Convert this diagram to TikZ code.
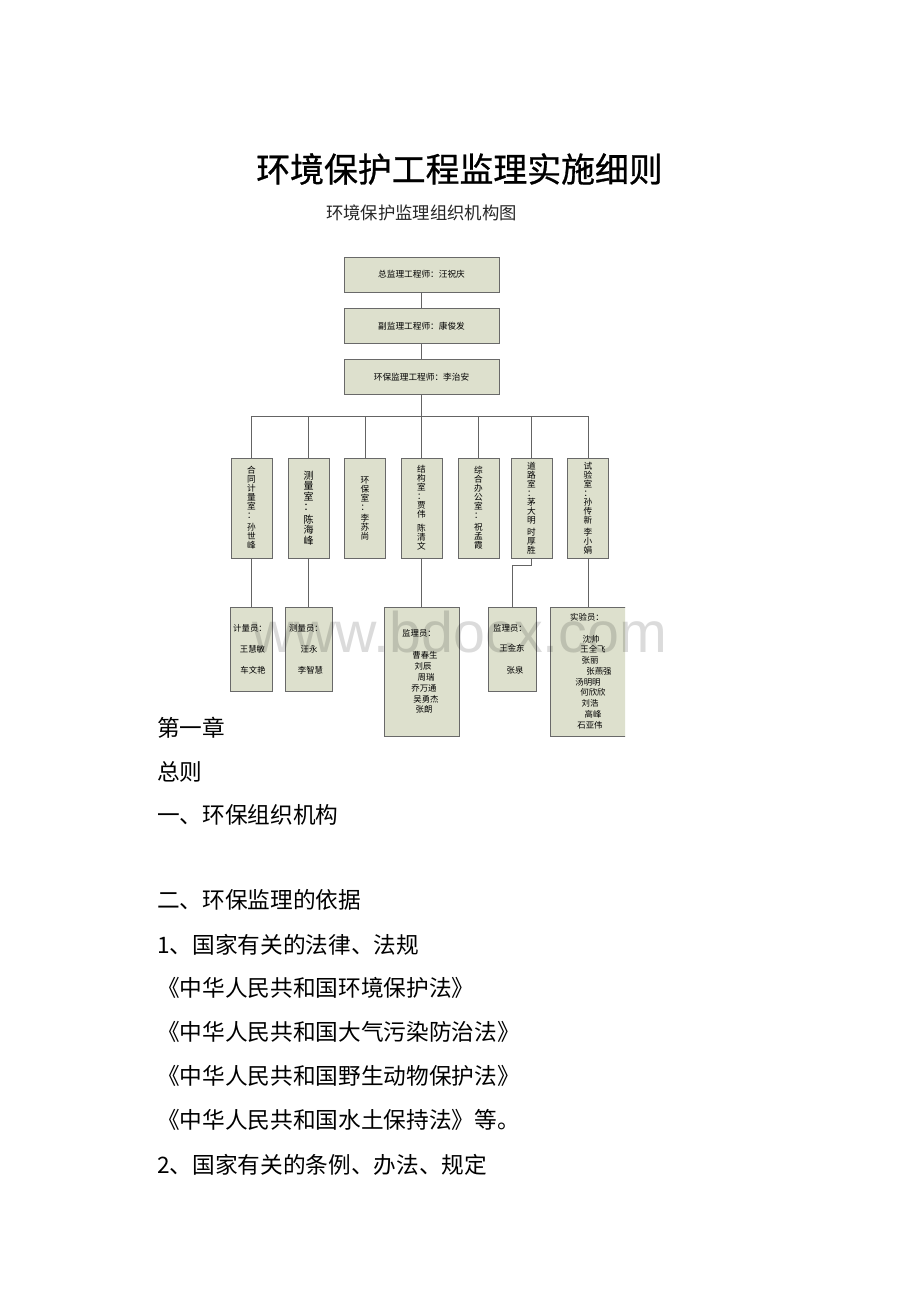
\documentclass[tikz,border=0pt]{standalone}
\usepackage{fontspec}
\setmainfont{Noto Sans CJK SC}
\newfontfamily\titlefont[FakeBold=0.8]{Noto Sans CJK SC}
\newfontfamily\wmfont{Liberation Sans}
\usepackage{tikz}
\definecolor{boxfill}{RGB}{221,224,205}
\definecolor{boxline}{RGB}{105,105,105}
\definecolor{linkline}{RGB}{100,100,100}

\begin{document}
\begin{tikzpicture}[x=0.75pt, y=-0.75pt, node distance={38.6pt},
  topbox/.style = {draw=boxline, fill=boxfill, line width=0.7pt, minimum width=116.25pt, minimum height=26.25pt, inner sep=0pt, font=\fontsize{6.5}{7}\selectfont},
  deptbox/.style = {draw=boxline, fill=boxfill, line width=0.7pt, minimum width=30.75pt, minimum height=75pt, inner sep=0pt, align=center, font=\fontsize{6.5}{6.75}\selectfont},
  staffbox/.style = {draw=boxline, fill=boxfill, line width=0.7pt, minimum height=63pt, inner sep=0pt},
  stxt/.style = {inner sep=0pt, font=\fontsize{6.3}{6.3}\selectfont},
  link/.style = {draw=linkline, line width=0.7pt},
  body/.style = {anchor=west, inner sep=0pt, font=\fontsize{17}{17}\selectfont}]
\useasboundingbox (0,0) rectangle (920,1302);
\fill[white] (0,0) rectangle (920,1302);

\node[inner sep=0pt, font=\titlefont\fontsize{25.4}{26}\selectfont] (title) at (459.5,169) {环境保护工程监理实施细则};
\node[inner sep=0pt, text=black!85, font=\fontsize{13}{13}\selectfont] (sub) at (421.5,213) {环境保护监理组织机构图};

\node[topbox] (zj) at (421.5,274.5) {总监理工程师：汪祝庆};
\node[topbox] (fz) [below of=zj] {副监理工程师：康俊发};
\node[topbox] (hb) [below of=fz] {环保监理工程师：李治安};
\coordinate (bus) at (421.5,416);

\node[deptbox] (d1) at (251.5,508) {合\\同\\计\\量\\室\\：\\[2.25pt]孙\\世\\峰};
\node[deptbox, font=\fontsize{7.5}{7.9}\selectfont] (d2) at (308.5,508) {测\\量\\室\\：\\[1.5pt]陈\\海\\峰};
\node[deptbox] (d3) at (365,508) {环\\保\\室\\：\\[1.5pt]李\\苏\\尚};
\node[deptbox] (d4) at (421.5,508) {结\\构\\室\\：\\贾\\伟\\[3.75pt]陈\\清\\文};
\node[deptbox] (d5) at (478.5,508) {综\\合\\办\\公\\室\\：\\[2.25pt]祝\\孟\\霞};
\node[deptbox] (d6) at (531.5,508) {道\\路\\室\\：\\茅\\大\\明\\[2.25pt]时\\厚\\胜};
\node[deptbox] (d7) at (588,508) {试\\验\\室\\：\\孙\\传\\新\\[2.25pt]李\\小\\娟};

\draw[link] (zj) -- (fz);
\draw[link] (fz) -- (hb);
\draw[link] (hb) -- (d4);
\draw[link] (d1.north) |- (bus);
\draw[link] (d2.north) |- (bus);
\draw[link] (d3.north) |- (bus);
\draw[link] (d5.north) |- (bus);
\draw[link] (d6.north) |- (bus);
\draw[link] (d7.north) |- (bus);

\node[staffbox, minimum width=31.5pt] (s1) at (251.5,649) {};
\node[staffbox, minimum width=35.25pt] (s2) at (308.5,649) {};
\node[staffbox, minimum width=56.25pt, minimum height=96.75pt] (s3) at (421.5,671.5) {};
\node[staffbox, minimum width=36pt] (s4) at (512,649) {};
\begin{scope}
\clip (0,0) rectangle (625,1302);
\node[staffbox, minimum width=57pt, minimum height=96.75pt] (s5) at (588,671.5) {};
\end{scope}

\draw[link] (d1) -- (s1);
\draw[link] (d2) -- (s2);
\draw[link] (d4) -- (s3);
\draw[link] (d6.south) -- ++(0,7) -| (s4.north);
\draw[link] (d7) -- (s5);

\node[stxt] (s1a) at (250,628) {计量员：};
\node[stxt] (s1b) at (252.5,649) {王慧敏};
\node[stxt] (s1c) at (253,670) {车文艳};
\node[stxt] (s2a) at (306,628) {测量员：};
\node[stxt] (s2b) at (309,649) {汪永};
\node[stxt] (s2c) at (310.5,670) {李智慧};
\node[stxt] (s3a) at (419,633) {监理员：};
\node[stxt] (s3b) at (425,655) {曹春生};
\node[stxt] (s3c) at (423,666) {刘辰};
\node[stxt] (s3d) at (426,677) {周瑞};
\node[stxt] (s3e) at (424,688) {乔万通};
\node[stxt] (s3f) at (426,699) {吴勇杰};
\node[stxt] (s3g) at (424,709) {张朗};
\node[stxt] (s4a) at (510,628) {监理员：};
\node[stxt] (s4b) at (512,648) {王金东};
\node[stxt] (s4c) at (515,670) {张泉};
\node[stxt] (s5a) at (587,617) {实验员：};
\node[stxt] (s5b) at (591,639) {沈帅};
\node[stxt] (s5c) at (593,649.5) {王全飞};
\node[stxt] (s5d) at (590,660) {张丽};
\node[stxt] (s5e) at (599,671) {张燕强};
\node[stxt] (s5f) at (588,682) {汤明明};
\node[stxt] (s5g) at (593,692.5) {何欣欣};
\node[stxt] (s5h) at (590,703) {刘浩};
\node[stxt] (s5i) at (593,714) {高峰};
\node[stxt] (s5j) at (590,725) {石亚伟};

\node[inner sep=0pt, anchor=base, text=black, text opacity=0.14, font=\wmfont\fontsize{43}{43}\selectfont] (wm) at (460,652) {www.bdocx.com};

\node[body] (l1) at (157,728) {第一章};
\node[body] (l2) at (157,772) {总则};
\node[body] (l3) at (157,815) {一、环保组织机构};
\node[body] (l4) at (157,900) {二、环保监理的依据};
\node[body] (l5) at (157,945) {1、国家有关的法律、法规};
\node[body] (l6) at (157,988) {《中华人民共和国环境保护法》};
\node[body] (l7) at (157,1032) {《中华人民共和国大气污染防治法》};
\node[body] (l8) at (157,1076) {《中华人民共和国野生动物保护法》};
\node[body] (l9) at (157,1120) {《中华人民共和国水土保持法》等。};
\node[body] (l10) at (157,1165) {2、国家有关的条例、办法、规定};
\end{tikzpicture}
\end{document}
